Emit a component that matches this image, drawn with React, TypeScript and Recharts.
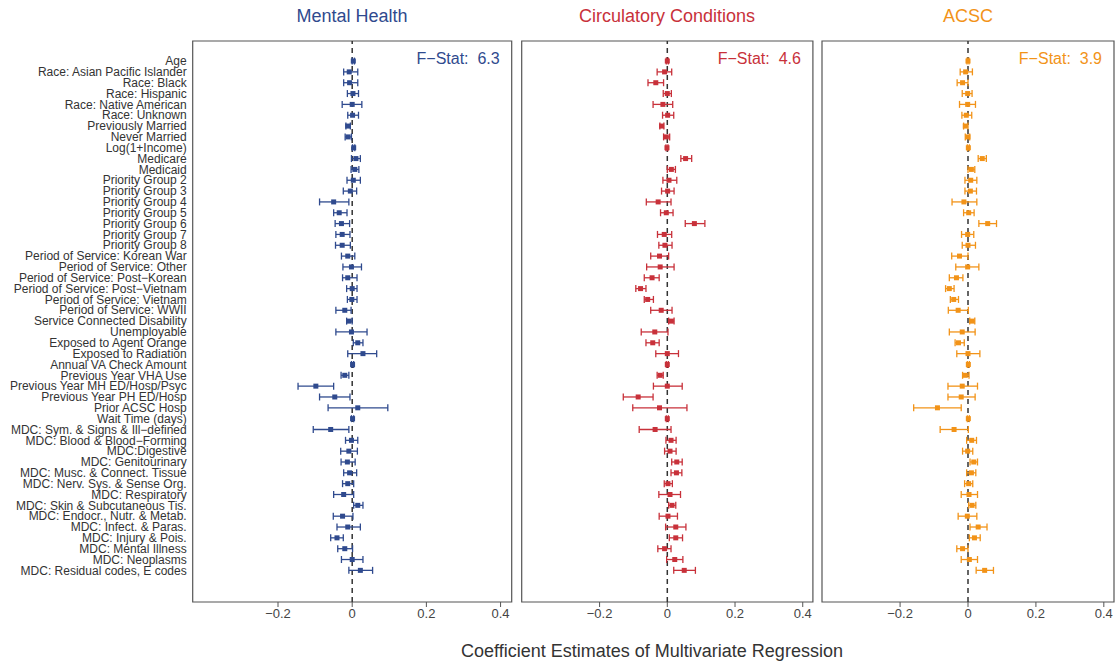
import React from 'react'
import {
  ScatterChart, Scatter, XAxis, YAxis, ErrorBar, ReferenceLine, ReferenceArea,
} from 'recharts'

const LABELS = [
  'Age', 'Race: Asian Pacific Islander', 'Race: Black', 'Race: Hispanic', 'Race: Native American',
  'Race: Unknown', 'Previously Married', 'Never Married', 'Log(1+Income)', 'Medicare', 'Medicaid',
  'Priority Group 2', 'Priority Group 3', 'Priority Group 4', 'Priority Group 5', 'Priority Group 6',
  'Priority Group 7', 'Priority Group 8', 'Period of Service: Korean War', 'Period of Service: Other',
  'Period of Service: Post\u2212Korean', 'Period of Service: Post\u2212Vietnam', 'Period of Service: Vietnam',
  'Period of Service: WWII', 'Service Connected Disability', 'Unemployable', 'Exposed to Agent Orange',
  'Exposed to Radiation', 'Annual VA Check Amount', 'Previous Year VHA Use', 'Previous Year MH ED/Hosp/Psyc',
  'Previous Year PH ED/Hosp', 'Prior ACSC Hosp', 'Wait Time (days)', 'MDC: Sym. & Signs & Ill\u2212defined',
  'MDC: Blood & Blood\u2212Forming', 'MDC:Digestive', 'MDC: Genitourinary', 'MDC: Musc. & Connect. Tissue',
  'MDC: Nerv. Sys. & Sense Org.', 'MDC: Respiratory', 'MDC: Skin & Subcutaneous Tis.',
  'MDC: Endocr., Nutr. & Metab.', 'MDC: Infect. & Paras.', 'MDC: Injury & Pois.', 'MDC: Mental Illness',
  'MDC: Neoplasms', 'MDC: Residual codes, E codes',
]

// Mental Health
const MH_EST = [0.003, -0.008, -0.007, 0.002, 0.0, 0.001, -0.012, -0.011, 0.004, 0.01, 0.007, 0.003, -0.005, -0.05, -0.035, -0.029, -0.027, -0.027, -0.012, -0.002, -0.012, 0.0, -0.001, -0.02, -0.009, -0.002, 0.015, 0.029, 0.001, -0.02, -0.098, -0.047, 0.015, 0.001, -0.058, -0.002, -0.009, -0.013, -0.007, -0.012, -0.023, 0.015, -0.026, -0.012, -0.041, -0.02, 0.0, 0.022]
const MH_LO = [0.0, -0.023, -0.023, -0.013, -0.027, -0.012, -0.017, -0.019, 0.001, -0.002, -0.003, -0.014, -0.024, -0.088, -0.05, -0.046, -0.044, -0.045, -0.029, -0.025, -0.026, -0.015, -0.013, -0.044, -0.015, -0.044, 0.003, -0.012, -0.002, -0.03, -0.146, -0.088, -0.065, -0.002, -0.105, -0.018, -0.031, -0.03, -0.023, -0.026, -0.05, 0.004, -0.051, -0.041, -0.058, -0.039, -0.029, -0.009]
const MH_HI = [0.006, 0.015, 0.015, 0.017, 0.026, 0.017, -0.005, -0.002, 0.007, 0.022, 0.018, 0.022, 0.012, -0.009, -0.014, -0.007, -0.006, -0.005, 0.007, 0.025, 0.013, 0.013, 0.013, -0.003, 0.0, 0.04, 0.029, 0.066, 0.004, -0.009, -0.05, -0.006, 0.096, 0.004, -0.009, 0.015, 0.014, 0.008, 0.012, 0.004, 0.004, 0.029, 0.002, 0.022, -0.024, 0.001, 0.029, 0.055]

// Circulatory Conditions
const CC_EST = [0.0, -0.008, -0.034, 0.0, -0.013, 0.001, -0.017, -0.003, -0.001, 0.054, 0.012, 0.005, 0.001, -0.027, -0.003, 0.08, -0.009, -0.007, -0.023, -0.021, -0.045, -0.079, -0.058, -0.018, 0.012, -0.037, -0.043, 0.0, 0.0, -0.021, 0.0, -0.086, -0.023, 0.0, -0.036, 0.011, 0.008, 0.028, 0.027, 0.002, 0.008, 0.014, 0.002, 0.025, 0.025, -0.008, 0.022, 0.05]
const CC_LO = [-0.003, -0.03, -0.057, -0.012, -0.042, -0.014, -0.022, -0.011, -0.004, 0.04, 0.0, -0.013, -0.017, -0.062, -0.02, 0.053, -0.029, -0.025, -0.049, -0.061, -0.068, -0.093, -0.068, -0.049, 0.004, -0.077, -0.063, -0.034, -0.003, -0.03, -0.041, -0.13, -0.102, -0.003, -0.083, -0.004, -0.008, 0.013, 0.011, -0.009, -0.025, 0.004, -0.024, -0.005, 0.006, -0.028, -0.002, 0.019]
const CC_HI = [0.003, 0.013, -0.011, 0.012, 0.016, 0.019, -0.01, 0.007, 0.002, 0.072, 0.024, 0.028, 0.02, 0.011, 0.017, 0.111, 0.013, 0.014, 0.004, 0.02, -0.024, -0.063, -0.041, 0.014, 0.02, 0.002, -0.024, 0.033, 0.003, -0.012, 0.044, -0.042, 0.058, 0.003, 0.011, 0.026, 0.026, 0.044, 0.043, 0.015, 0.039, 0.025, 0.03, 0.055, 0.045, 0.011, 0.046, 0.083]

// ACSC
const AC_EST = [0.0, -0.007, -0.016, -0.001, -0.001, -0.005, -0.008, 0.0, 0.001, 0.042, 0.01, 0.008, 0.007, -0.012, 0.002, 0.058, -0.001, 0.0, -0.025, -0.001, -0.034, -0.055, -0.042, -0.029, 0.012, -0.017, -0.028, 0.0, 0.001, -0.008, -0.017, -0.02, -0.09, 0.001, -0.041, 0.011, -0.001, 0.017, 0.01, 0.002, 0.003, 0.012, -0.002, 0.03, 0.019, -0.016, 0.004, 0.049]
const AC_LO = [-0.003, -0.023, -0.032, -0.017, -0.025, -0.018, -0.013, -0.008, -0.002, 0.03, 0.0, -0.009, -0.009, -0.047, -0.013, 0.032, -0.019, -0.017, -0.048, -0.036, -0.055, -0.066, -0.052, -0.058, 0.005, -0.055, -0.038, -0.033, -0.002, -0.016, -0.059, -0.059, -0.16, -0.002, -0.082, -0.004, -0.016, 0.006, -0.004, -0.01, -0.02, 0.002, -0.029, 0.006, 0.004, -0.033, -0.02, 0.024]
const AC_HI = [0.003, 0.013, 0.0, 0.012, 0.022, 0.011, 0.0, 0.005, 0.004, 0.054, 0.02, 0.026, 0.025, 0.026, 0.018, 0.084, 0.017, 0.022, 0.0, 0.032, -0.015, -0.041, -0.028, 0.001, 0.02, 0.021, -0.011, 0.035, 0.004, 0.003, 0.028, 0.021, -0.02, 0.004, 0.001, 0.025, 0.014, 0.028, 0.023, 0.014, 0.028, 0.023, 0.026, 0.056, 0.036, 0.0, 0.028, 0.075]

const X_TICKS = [-0.2, 0, 0.2, 0.4]
const X_DOMAIN: [number, number] = [-0.43, 0.43]
const Y_DOMAIN: [number, number] = [-1.85, 49.92]
const ROW_TICKS = LABELS.map((_, i) => i)

const FONT = '"Liberation Sans", Arial, Helvetica, sans-serif'
const BLUE = '#2F4A8E'
const RED = '#C8313A'
const ORANGE = '#F29318'

function rows(est: number[], lo: number[], hi: number[]) {
  return est.map((e, i) => ({ x: e, y: i, err: [e - lo[i], hi[i] - e] }))
}

const fmt = (v: number) => (v < 0 ? '\u2212' + String(-v) : String(v))

// one-line row label, no wrapping
function RowTick(props: any) {
  const { x, y, payload } = props
  return (
    <text x={x} y={y} dy="0.35em" textAnchor="end" fontSize={12} fill="#333" fontFamily={FONT}>
      {LABELS[payload.value]}
    </text>
  )
}

// small filled square marker
const square = (color: string) => (p: any) => (
  <rect x={p.cx - 2.5} y={p.cy - 2.5} width={5} height={5} fill={color} />
)

interface PanelProps {
  left: number
  width: number
  margin: { top: number; right: number; bottom: number; left: number }
  data: Array<{ x: number; y: number; err: number[] }>
  color: string
  fstat: string
  showLabels?: boolean
}

function Panel({ left, width, margin, data, color, fstat, showLabels }: PanelProps) {
  return (
    <div style={{ position: 'absolute', left, top: 0 }}>
      <ScatterChart width={width} height={665} margin={margin}>
        <XAxis
          type="number" dataKey="x" domain={X_DOMAIN} ticks={X_TICKS} allowDataOverflow
          axisLine={false} tickSize={5} tickLine={{ stroke: '#555' }} height={30}
          tick={{ fontSize: 13, fill: '#444', fontFamily: FONT }} tickFormatter={fmt}
        />
        <YAxis
          type="number" dataKey="y" domain={Y_DOMAIN} reversed allowDataOverflow
          ticks={ROW_TICKS} interval={0} hide={!showLabels}
          width={showLabels ? 192.7 : 0} axisLine={false} tickLine={false} tickSize={4}
          tick={<RowTick />}
        />
        <ReferenceArea
          x1={X_DOMAIN[0]} x2={X_DOMAIN[1]} y1={Y_DOMAIN[0]} y2={Y_DOMAIN[1]}
          fill="none" stroke="#555" strokeWidth={1.2} fillOpacity={0}
          label={{ value: fstat, position: 'insideTopRight', offset: 12, fill: color, fontSize: 16, fontFamily: FONT }}
        />
        <ReferenceLine x={0} stroke="#333" strokeWidth={1.5} strokeDasharray="5 4" />
        <Scatter data={data} fill={color} shape={square(color)} isAnimationActive={false}>
          <ErrorBar dataKey="err" direction="x" width={3.5} stroke={color} strokeWidth={1.3} isAnimationActive={false} />
        </Scatter>
      </ScatterChart>
    </div>
  )
}

const titleStyle = (x: number, color: string): React.CSSProperties => ({
  position: 'absolute', top: 6, left: x - 150, width: 300, textAlign: 'center',
  fontSize: 18, color, fontFamily: FONT,
})

export default function App() {
  const bottom = { top: 41, bottom: 33 }
  return (
    <div style={{ position: 'absolute', left: 0, top: 0, width: 1117, height: 665, background: '#fff', fontFamily: FONT }}>
      <Panel left={0} width={520} margin={{ ...bottom, left: 0, right: 8.3 }}
        data={rows(MH_EST, MH_LO, MH_HI)} color={BLUE} fstat={'F\u2212Stat:\u00a0 6.3'} showLabels />
      <Panel left={515} width={305} margin={{ ...bottom, left: 6.7, right: 7.1 }}
        data={rows(CC_EST, CC_LO, CC_HI)} color={RED} fstat={'F\u2212Stat:\u00a0 4.6'} />
      <Panel left={815} width={302} margin={{ ...bottom, left: 7, right: 3 }}
        data={rows(AC_EST, AC_LO, AC_HI)} color={ORANGE} fstat={'F\u2212Stat:\u00a0 3.9'} />
      <div style={titleStyle(352, BLUE)}>Mental Health</div>
      <div style={titleStyle(667, RED)}>Circulatory Conditions</div>
      <div style={titleStyle(968, ORANGE)}>ACSC</div>
      <div style={{ position: 'absolute', top: 641, left: 352, width: 600, textAlign: 'center', fontSize: 18, color: '#333' }}>
        Coefficient Estimates of Multivariate Regression
      </div>
    </div>
  )
}
